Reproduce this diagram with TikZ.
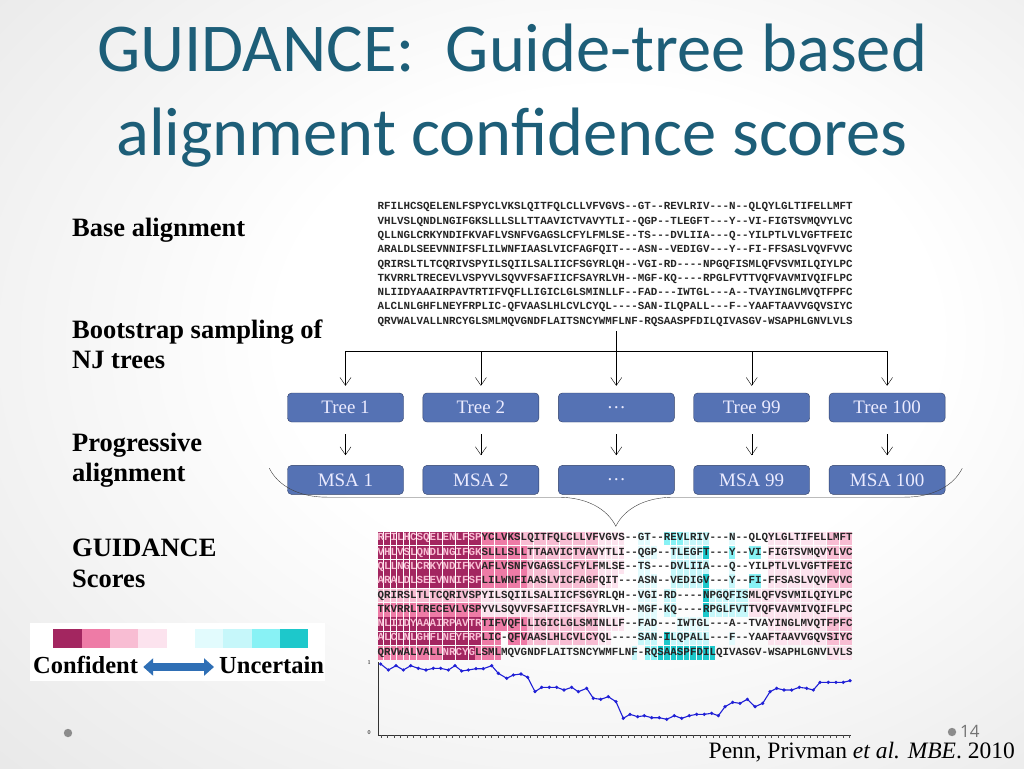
\documentclass[tikz,border=0pt]{standalone}
\usepackage{fontspec}
\setmainfont{Liberation Serif}
\setmonofont{Liberation Mono}
\newfontfamily\titlefont{Carlito}
\newfontfamily\pagefont{Open Sans}
\usetikzlibrary{arrows.meta, positioning, calc, decorations.pathreplacing}

\definecolor{TitleTeal}{HTML}{1D5E78}
\definecolor{BoxBlue}{HTML}{5572B4}
\definecolor{BoxEdge}{HTML}{2E3E66}
\definecolor{ConfA}{HTML}{A32660}
\definecolor{ConfB}{HTML}{EE7BA6}
\definecolor{ConfC}{HTML}{F8BDD3}
\definecolor{ConfD}{HTML}{FCE3EE}
\definecolor{UncA}{HTML}{E2FBFD}
\definecolor{UncB}{HTML}{C6F7FA}
\definecolor{UncC}{HTML}{88F2F5}
\definecolor{UncD}{HTML}{1DC8CB}
\definecolor{ArrowBlue}{HTML}{2F6FB5}
\definecolor{ScoreBlue}{HTML}{1F1FD6}

% letters on the darkest cells
\newcommand{\lite}[1]{\textcolor{ConfC}{#1}}

\pgfdeclareradialshading{slidebg}{\pgfpoint{6bp}{4bp}}{color(0bp)=(white); color(16bp)=(white); color(50bp)=(black!13); color(75bp)=(black!20)}

\begin{document}
\begin{tikzpicture}[x=1pt, y=-1pt, >={Straight Barb[length=8pt,width=11pt]},
  stepbox/.style={draw=BoxEdge, fill=BoxBlue, rounded corners=4pt, minimum width=116pt,
    minimum height=29pt, inner sep=0pt, text=white!92!blue, font=\fontsize{19}{22}\selectfont},
  rowlabel/.style={anchor=base west, inner sep=0pt, font=\bfseries\fontsize{26.5}{30}\selectfont},
  alntext/.style={anchor=west, inner sep=0pt, text=black!85,
    font=\ttfamily\bfseries\fontsize{10.85}{12}\selectfont},
  titleline/.style={anchor=base, inner sep=0pt, text=TitleTeal, font=\titlefont\fontsize{68.5}{80}\selectfont}]
  \useasboundingbox (0,0) rectangle (1024,768);
  % Background
  \shade[shading=slidebg] (0,0) rectangle (1024,768);
  % Title
  \node[titleline] (title1) at (512,71.7) {GUIDANCE:\ \ Guide-tree based};
  \node[titleline] (title2) at (512,155) {alignment confidence scores};
  % Row labels
  \node[rowlabel] (lblbase) at (72,236.7) {Base alignment};
  \node[rowlabel] (lblboot) at (72,338.3) {Bootstrap sampling of};
  \node[rowlabel] (lblnj) at (72,368.3) {NJ trees};
  \node[rowlabel] (lblprog) at (72,451.7) {Progressive};
  \node[rowlabel] (lblaln) at (72,481.7) {alignment};
  \node[rowlabel] (lblgdc) at (72,556.7) {GUIDANCE};
  \node[rowlabel] (lblscore) at (72,587.7) {Scores};
  % Base alignment
  \foreach \seq [count=\k from 0] in {
    RFILHCSQELENLFSPYCLVKSLQITFQLCLLVFVGVS--GT--REVLRIV---N--QLQYLGLTIFELLMFT,
    VHLVSLQNDLNGIFGKSLLLSLLTTAAVICTVAVYTLI--QGP--TLEGFT---Y--VI-FIGTSVMQVYLVC,
    QLLNGLCRKYNDIFKVAFLVSNFVGAGSLCFYLFMLSE--TS---DVLIIA---Q--YILPTLVLVGFTFEIC,
    ARALDLSEEVNNIFSFLILWNFIAASLVICFAGFQIT---ASN--VEDIGV---Y--FI-FFSASLVQVFVVC,
    QRIRSLTLTCQRIVSPYILSQIILSALIICFSGYRLQH--VGI-RD----NPGQFISMLQFVSVMILQIYLPC,
    TKVRRLTRECEVLVSPYVLSQVVFSAFIICFSAYRLVH--MGF-KQ----RPGLFVTTVQFVAVMIVQIFLPC,
    NLIIDYAAAIRPAVTRTIFVQFLLIGICLGLSMINLLF--FAD---IWTGL---A--TVAYINGLMVQTFPFC,
    ALCLNLGHFLNEYFRPLIC-QFVAASLHLCVLCYQL----SAN-ILQPALL---F--YAAFTAAVVGQVSIYC,
    QRVWALVALLNRCYGLSMLMQVGNDFLAITSNCYWMFLNF-RQSAASPFDILQIVASGV-WSAPHLGNVLVLS}
  {
    \node[alntext] (basealn\k) at (377.3,{207.3+14.3*\k}) {\seq};
  }
  % Score colouring of the cells
  \foreach \r/\a/\b/\c in {
    0/0/15/ConfA, 0/16/21/ConfB, 0/22/33/ConfC, 0/34/37/ConfD, 0/60/68/ConfD, 0/69/72/ConfC,
    1/0/15/ConfA, 1/16/22/ConfB, 1/23/33/ConfC, 1/34/37/ConfD, 1/60/68/ConfD, 1/69/72/ConfC,
    2/0/15/ConfA, 2/16/22/ConfB, 2/23/33/ConfC, 2/34/37/ConfD, 2/60/68/ConfD, 2/69/72/ConfC,
    3/0/15/ConfA, 3/16/22/ConfB, 3/23/33/ConfC, 3/34/36/ConfD, 3/60/68/ConfD, 3/69/72/ConfC,
    4/0/15/ConfC, 4/16/33/ConfD, 4/57/72/ConfD,
    5/0/15/ConfB, 5/16/33/ConfD, 5/57/72/ConfD,
    6/0/15/ConfA, 6/16/22/ConfB, 6/23/33/ConfC, 6/34/37/ConfD, 6/60/68/ConfD, 6/69/72/ConfC,
    7/0/15/ConfA, 7/16/18/ConfB, 7/20/22/ConfB, 7/23/33/ConfC, 7/34/35/ConfD, 7/60/68/ConfD, 7/69/72/ConfC,
    8/0/9/ConfB, 8/10/14/ConfA, 8/15/18/ConfB, 8/69/72/ConfD,
    0/40/41/UncA, 0/44/46/UncC, 0/47/50/UncB, 0/54/54/UncA,
    1/40/42/UncA, 1/45/49/UncB, 1/50/50/UncD, 1/54/54/UncC, 1/57/58/UncC,
    2/40/41/UncA, 2/45/50/UncB, 2/54/54/UncA,
    3/40/42/UncA, 3/45/49/UncB, 3/50/50/UncD, 3/54/54/UncB, 3/57/58/UncC,
    4/40/42/UncA, 4/44/45/UncB, 4/50/50/UncD, 4/51/56/UncB,
    5/40/42/UncA, 5/44/45/UncB, 5/50/50/UncD, 5/51/56/UncB,
    6/40/42/UncA, 6/46/50/UncA,
    7/40/42/UncB, 7/44/44/UncD, 7/45/50/UncB, 7/54/54/UncA,
    8/39/39/UncB, 8/41/42/UncC, 8/43/51/UncD}
  {
    \foreach \j in {\a,...,\b}
      \fill[\c] ({377.3+6.51*\j+0.35},{538.3+14.3*\r-6.8}) rectangle ++(5.8,13.6);
  }
  % Scored alignment
  \foreach \seq [count=\k from 0] in {
    \lite{RFILHCSQELENLFSP}YCLVKSLQITFQLCLLVFVGVS--GT--REVLRIV---N--QLQYLGLTIFELLMFT,
    \lite{VHLVSLQNDLNGIFGK}SLLLSLLTTAAVICTVAVYTLI--QGP--TLEGFT---Y--VI-FIGTSVMQVYLVC,
    \lite{QLLNGLCRKYNDIFKV}AFLVSNFVGAGSLCFYLFMLSE--TS---DVLIIA---Q--YILPTLVLVGFTFEIC,
    \lite{ARALDLSEEVNNIFSF}LILWNFIAASLVICFAGFQIT---ASN--VEDIGV---Y--FI-FFSASLVQVFVVC,
    QRIRSLTLTCQRIVSPYILSQIILSALIICFSGYRLQH--VGI-RD----NPGQFISMLQFVSVMILQIYLPC,
    TKVRRLTRECEVLVSPYVLSQVVFSAFIICFSAYRLVH--MGF-KQ----RPGLFVTTVQFVAVMIVQIFLPC,
    \lite{NLIIDYAAAIRPAVTR}TIFVQFLLIGICLGLSMINLLF--FAD---IWTGL---A--TVAYINGLMVQTFPFC,
    \lite{ALCLNLGHFLNEYFRP}LIC-QFVAASLHLCVLCYQL----SAN-ILQPALL---F--YAAFTAAVVGQVSIYC,
    QRVWALVALL\lite{NRCYG}LSMLMQVGNDFLAITSNCYWMFLNF-RQSAASPFDILQIVASGV-WSAPHLGNVLVLS}
  {
    \node[alntext] (gdcaln\k) at (377.3,{538.3+14.3*\k}) {\seq};
  }
  % Trees and MSAs
  \node[stepbox] (tree1) at (345.5,407.5) {Tree 1};
  \node[stepbox, right=19pt of tree1] (tree2) {Tree 2};
  \node[stepbox, right=19pt of tree2] (tree3) {…};
  \node[stepbox, right=19pt of tree3] (tree4) {Tree 99};
  \node[stepbox, right=19pt of tree4] (tree5) {Tree 100};
  \node[stepbox, below=43pt of tree1] (msa1) {MSA 1};
  \node[stepbox, below=43pt of tree2] (msa2) {MSA 2};
  \node[stepbox, below=43pt of tree3] (msa3) {…};
  \node[stepbox, below=43pt of tree4] (msa4) {MSA 99};
  \node[stepbox, below=43pt of tree5] (msa5) {MSA 100};
  % Bootstrap split
  \coordinate (alnfoot) at (616,331);
  \coordinate (split) at (616,351);
  \draw (alnfoot) -- (split);
  \draw (tree1.north |- split) -- (tree5.north |- split);
  \foreach \i in {1,...,5} {
    \draw[->, shorten >=7pt] (tree\i.north |- split) -- (tree\i.north);
    \draw[->, shorten <=12pt, shorten >=10pt] (tree\i.south) -- (msa\i.north);
  }
  % Brace under the MSAs
  \coordinate (braceR) at ($(msa5.north east)+(17,3)$);
  \coordinate (braceL) at ($(msa1.north west)+(-18,3)$);
  \draw[black!75, decorate, decoration={brace, amplitude=58pt}] (braceR) -- (braceL);
  % Legend
  \fill[white] (30,623) rectangle (325,681);
  \foreach \c [count=\k from 0] in {ConfA,ConfB,ConfC,ConfD,white,UncA,UncB,UncC,UncD}
    \fill[\c] ({53.3+28.33*\k},629) rectangle ++(28.33,18.7);
  \node[anchor=base west, inner sep=0pt, font=\bfseries\fontsize{24.5}{28}\selectfont] (confident) at (33,673) {Confident};
  \node[anchor=base west, inner sep=0pt, font=\bfseries\fontsize{24.5}{28}\selectfont] (uncertain) at (219,673) {Uncertain};
  \draw[ArrowBlue, line width=8pt, {Triangle[length=10pt,width=17pt]}-{Triangle[length=10pt,width=17pt]},
    shorten <=5pt, shorten >=5pt] (confident.east |- 0,667) -- (uncertain.west |- 0,667);
  % Score plot
  \draw[black!80] (378,662) -- (378,735) -- (851,735);
  \foreach \t in {0,...,72}
    \draw[black!70, line width=0.4pt] ({380.7+6.51*\t},735) -- ++(0,2.5);
  \node[font=\fontsize{6}{7}\selectfont, inner sep=0pt] (ytop) at (369,663) {1};
  \node[font=\fontsize{6}{7}\selectfont, inner sep=0pt] (ybot) at (369,733) {0};
  \draw[ScoreBlue, line width=1.1pt, mark=*, mark size=1pt, mark options={fill=ScoreBlue}] plot coordinates {
    (380.7,664) (388.3,670) (396,665.7) (403.3,670) (410.7,665.7) (418.3,668.3) (426,670)
    (433.3,668.3) (440.7,668.3) (448.3,670) (455,665.7) (461.7,671) (468.3,670) (476,668.7)
    (483.3,668.7) (491.7,665.7) (498.3,673.3) (506.7,678.3) (513.3,675) (521,674) (527.7,677.3)
    (535,691.7) (541.7,687.3) (549.3,687.3) (556.7,687.3) (564,690) (571.7,687.3) (578.3,691.7)
    (586.7,688.3) (593.3,698.3) (600.7,699.3) (608.3,696.7) (616,701.7) (623.3,718.3) (630,714.3)
    (637.7,716.7) (644.3,715.7) (651.7,717.7) (659.3,717.7) (666.7,719.3) (674.3,715.7) (681.7,718.3)
    (689.3,715.7) (696.7,714.3) (704.3,714.3) (711.7,713.3) (718.3,715.7) (725,706.7) (732.7,702.3)
    (740,703.3) (747.3,699.3) (755,706.7) (762.7,703.3) (770,691.7) (776.7,688.3) (784,690)
    (791.7,690) (799.3,687.3) (806.7,688.3) (813.3,690) (820,682.3) (828.3,682.3) (836,682.3)
    (843.3,682.3) (850,680.7)};
  % Footer
  \fill[black!45] (68,733) circle (4.2);
  \fill[black!45] (952,732) circle (4.2);
  \node[anchor=west, inner sep=0pt, text=black!55, font=\pagefont\fontsize{17}{20}\selectfont] (pagenum) at (960,731) {14};
  \node[anchor=base east, inner sep=0pt, font=\fontsize{23.5}{26}\selectfont] (cite) at (1015,758) {Penn, Privman \textit{et al. MBE}. 2010};
\end{tikzpicture}
\end{document}
